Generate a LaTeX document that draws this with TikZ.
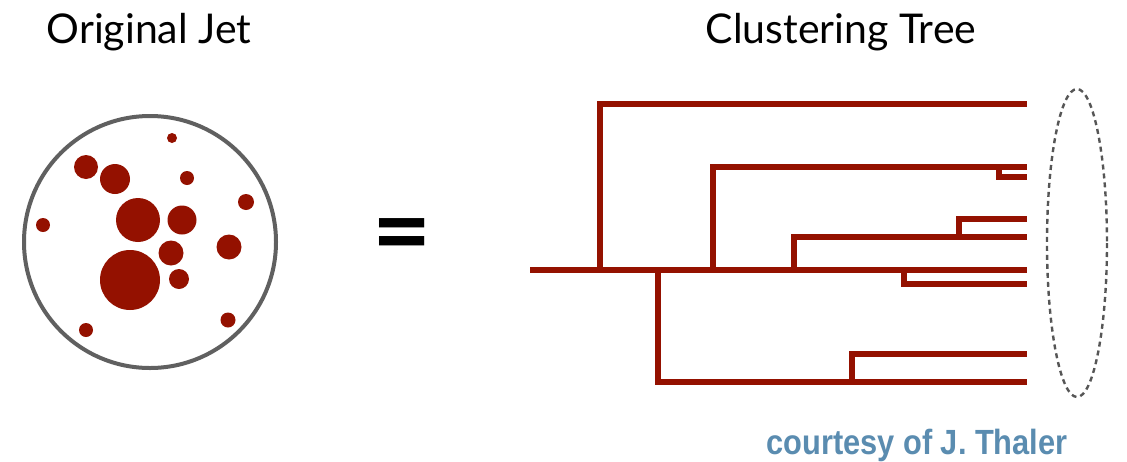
\documentclass[tikz,border=0pt]{standalone}
\usepackage{fontspec}
\setmainfont{Lato}
\newfontfamily\credfont{Liberation Sans}
\definecolor{jetred}{HTML}{941100}
\definecolor{ringgray}{HTML}{606060}
\definecolor{credblue}{HTML}{5A8CB0}
\tikzset{
  particle/.style={fill=jetred, draw=none},
  branch/.style={draw=jetred, line width=5.2pt, line join=miter},
  title/.style={anchor=base, inner sep=0pt, font=\fontsize{41}{41}\selectfont},
}
\begin{document}
\begin{tikzpicture}[x=1pt,y=-1pt]
\useasboundingbox (0,0) rectangle (1127,461);
% titles
\node[title] (t1) at (149,43) {Original Jet};
\node[title] (t2) at (841,43) {Clustering Tree};
% jet
\draw[ringgray, line width=4pt] (150,242) circle[radius=126];
\foreach \x/\y/\r in {172/138/5, 86/167/12, 115/179/15, 187/178/7, 246/202/8,
  43/225/7, 138/220/22, 182/220/14.5, 229/247/12.5, 171/253/12.5,
  130/280/30, 179/279/10, 228/320/7.5, 86/330/7}
  \fill[particle] (\x,\y) circle[radius=\r];
% equals
\node[inner sep=0pt, font=\fontsize{102}{102}\bfseries\selectfont] (eq) at (402.5,243) {=};
% tree
\draw[branch] (530,270) -- (1027,270);
\draw[branch] (600,270) -- (600,104) -- (1027,104);
\draw[branch] (713,270) -- (713,167) -- (1027,167);
\draw[branch] (999,167) -- (999,177) -- (1027,177);
\draw[branch] (794,270) -- (794,237) -- (1027,237);
\draw[branch] (959,237) -- (959,219) -- (1027,219);
\draw[branch] (904,270) -- (904,284) -- (1027,284);
\draw[branch] (658,270) -- (658,382) -- (1027,382);
\draw[branch] (852,382) -- (852,354) -- (1027,354);
% ellipse
\draw[ringgray!90!black, line width=2.4pt, dash pattern=on 5pt off 4pt] (1077,243) ellipse[x radius=30, y radius=154];
% credit
\node[anchor=base, inner sep=0pt, text=credblue] (cr) at (917,454)
  {\scalebox{0.88}[1]{\credfont\bfseries\fontsize{35}{35}\selectfont courtesy of J. Thaler}};
\end{tikzpicture}
\end{document}
